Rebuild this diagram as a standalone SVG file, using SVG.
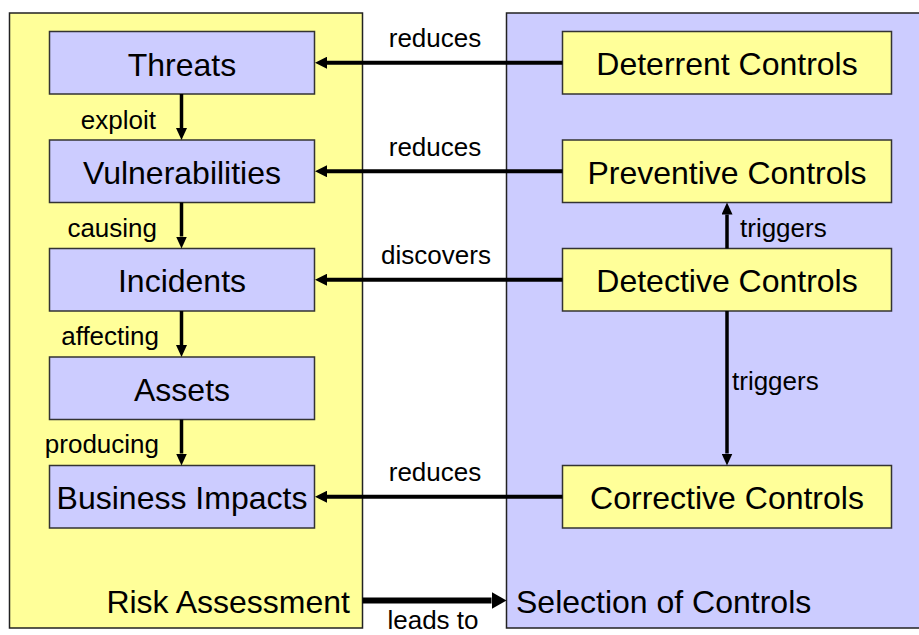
<svg xmlns="http://www.w3.org/2000/svg" width="919" height="635" viewBox="0 0 919 635">
  <style>
    .panel-y { fill: #FFFF99; stroke: #222; stroke-width: 1.5; }
    .panel-p { fill: #CCCCFF; stroke: #222; stroke-width: 1.5; }
    .box-p { fill: #CCCCFF; stroke: #333; stroke-width: 1.5; }
    .box-y { fill: #FFFF99; stroke: #333; stroke-width: 1.5; }
    .big { font-family: "Liberation Sans", Arial, sans-serif; font-size: 32px; fill: #000; }
    .lbl { font-family: "Liberation Sans", Arial, sans-serif; font-size: 26px; fill: #000; }
    .c { text-anchor: middle; }
    .e { text-anchor: end; }
    .h { stroke: #000; stroke-width: 4; fill: none; }
    .v { stroke: #000; stroke-width: 3.5; fill: none; }
    .lead { stroke: #000; stroke-width: 6; fill: none; }
  </style>
  <defs>
    <marker id="headH" markerUnits="userSpaceOnUse" markerWidth="12" markerHeight="12" refX="0" refY="6" orient="auto">
      <path d="M0,0 L12,6 L0,12 z" fill="#000"/>
    </marker>
    <marker id="headV" markerUnits="userSpaceOnUse" markerWidth="12" markerHeight="11" refX="0" refY="5.5" orient="auto">
      <path d="M0,0 L12,5.5 L0,11 z" fill="#000"/>
    </marker>
    <marker id="headL" markerUnits="userSpaceOnUse" markerWidth="15" markerHeight="17" refX="0" refY="8.5" orient="auto">
      <path d="M0,0 L15,8.5 L0,17 z" fill="#000"/>
    </marker>
  </defs>

  <!-- background panels -->
  <g id="risk-assessment">
    <rect class="panel-y" x="9.5" y="13" width="353" height="615"/>
    <text class="big e" x="350" y="613">Risk Assessment</text>
  </g>
  <g id="selection-of-controls">
    <rect class="panel-p" x="506.5" y="13" width="420" height="615"/>
    <text class="big" x="516" y="613">Selection of Controls</text>
  </g>

  <!-- risk chain -->
  <g id="threats">
    <rect class="box-p" x="49.5" y="31.5" width="265" height="62.5"/>
    <text class="big c" x="182" y="75.5">Threats</text>
  </g>
  <g id="vulnerabilities">
    <rect class="box-p" x="49.5" y="140" width="265" height="62.5"/>
    <text class="big c" x="182" y="184">Vulnerabilities</text>
  </g>
  <g id="incidents">
    <rect class="box-p" x="49.5" y="248.5" width="265" height="62.5"/>
    <text class="big c" x="182" y="292">Incidents</text>
  </g>
  <g id="assets">
    <rect class="box-p" x="49.5" y="357" width="265" height="62.5"/>
    <text class="big c" x="182" y="400.5">Assets</text>
  </g>
  <g id="business-impacts">
    <rect class="box-p" x="49.5" y="465.5" width="265" height="62.5"/>
    <text class="big c" x="182" y="509">Business Impacts</text>
  </g>

  <!-- controls -->
  <g id="deterrent-controls">
    <rect class="box-y" x="562.5" y="31.5" width="329" height="62.5"/>
    <text class="big c" x="727" y="75">Deterrent Controls</text>
  </g>
  <g id="preventive-controls">
    <rect class="box-y" x="562.5" y="140" width="329" height="62.5"/>
    <text class="big c" x="727" y="183.5">Preventive Controls</text>
  </g>
  <g id="detective-controls">
    <rect class="box-y" x="562.5" y="248.5" width="329" height="62.5"/>
    <text class="big c" x="727" y="292">Detective Controls</text>
  </g>
  <g id="corrective-controls">
    <rect class="box-y" x="562.5" y="465.5" width="329" height="62.5"/>
    <text class="big c" x="727" y="509">Corrective Controls</text>
  </g>

  <!-- connectors -->
  <g id="connectors">
    <!-- risk chain -->
    <path class="v" d="M181.5,94 V128" marker-end="url(#headV)"/>
    <path class="v" d="M181.5,202.5 V236.5" marker-end="url(#headV)"/>
    <path class="v" d="M181.5,311 V345" marker-end="url(#headV)"/>
    <path class="v" d="M181.5,419.5 V453.5" marker-end="url(#headV)"/>
    <text class="lbl e" x="156" y="128.5">exploit</text>
    <text class="lbl e" x="157" y="237">causing</text>
    <text class="lbl e" x="159" y="345">affecting</text>
    <text class="lbl e" x="159" y="453">producing</text>

    <!-- controls acting on risks -->
    <path class="h" d="M562.5,62.75 H327" marker-end="url(#headH)"/>
    <path class="h" d="M562.5,171.25 H327" marker-end="url(#headH)"/>
    <path class="h" d="M562.5,279.75 H327" marker-end="url(#headH)"/>
    <path class="h" d="M562.5,496.75 H327" marker-end="url(#headH)"/>
    <text class="lbl c" x="435" y="47">reduces</text>
    <text class="lbl c" x="435" y="155.5">reduces</text>
    <text class="lbl c" x="436" y="264">discovers</text>
    <text class="lbl c" x="435" y="480.5">reduces</text>

    <!-- triggers -->
    <path class="v" d="M727,248.5 V214.5" marker-end="url(#headV)"/>
    <text class="lbl" x="740" y="237">triggers</text>
    <path class="v" d="M727,311 V453.5" marker-end="url(#headV)"/>
    <text class="lbl" x="732" y="390">triggers</text>

    <!-- leads to -->
    <path class="lead" d="M362.5,600.5 H491.5" marker-end="url(#headL)"/>
    <text class="lbl c" x="433" y="629">leads to</text>
  </g>
</svg>
